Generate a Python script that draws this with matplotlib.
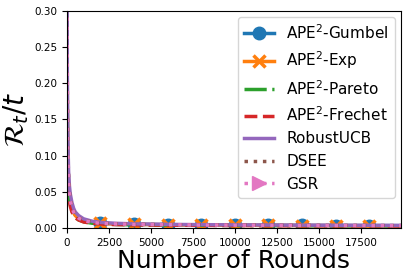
import numpy as np
import matplotlib
matplotlib.use("Agg")
import matplotlib.pyplot as plt

rounds = [1, 25, 50, 100, 150, 200, 300, 400, 500, 700, 1000, 1500, 2000, 3000,
          4000, 6000, 8000, 10000, 12000, 14000, 16000, 18000, 19900]

gumbel   = [0.45, 0.17, 0.10, 0.060, 0.045, 0.037, 0.028, 0.022, 0.018, 0.014, 0.010, 0.0078,
            0.0065, 0.0055, 0.0050, 0.0045, 0.0041, 0.0038, 0.0036, 0.0034, 0.0033, 0.0032, 0.0031]
exp      = [0.45, 0.17, 0.10, 0.060, 0.045, 0.036, 0.027, 0.021, 0.017, 0.013, 0.0098, 0.0076,
            0.0063, 0.0054, 0.0049, 0.0044, 0.0040, 0.0037, 0.0035, 0.0033, 0.0032, 0.0031, 0.0030]
pareto   = [0.42, 0.15, 0.09, 0.052, 0.040, 0.032, 0.024, 0.019, 0.015, 0.011, 0.0085, 0.0065,
            0.0055, 0.0047, 0.0043, 0.0039, 0.0036, 0.0034, 0.0032, 0.0031, 0.0030, 0.0029, 0.0028]
frechet  = [0.40, 0.14, 0.085, 0.048, 0.037, 0.030, 0.022, 0.018, 0.014, 0.011, 0.0082, 0.0064,
            0.0054, 0.0046, 0.0042, 0.0038, 0.0035, 0.0033, 0.0031, 0.0030, 0.0029, 0.0028, 0.0027]
robustucb = [0.50, 0.21, 0.13, 0.078, 0.058, 0.047, 0.035, 0.027, 0.022, 0.017, 0.0125, 0.0093,
             0.0076, 0.0063, 0.0056, 0.0049, 0.0045, 0.0042, 0.0040, 0.0038, 0.0037, 0.0036, 0.0035]
dsee     = [0.48, 0.19, 0.115, 0.068, 0.050, 0.040, 0.030, 0.023, 0.019, 0.014, 0.0105, 0.0080,
            0.0066, 0.0056, 0.0050, 0.0045, 0.0041, 0.0039, 0.0037, 0.0035, 0.0034, 0.0033, 0.0032]
gsr      = [0.46, 0.18, 0.105, 0.062, 0.046, 0.038, 0.028, 0.022, 0.018, 0.0135, 0.010, 0.0078,
            0.0064, 0.0055, 0.0049, 0.0044, 0.0040, 0.0038, 0.0036, 0.0034, 0.0033, 0.0032, 0.0031]
# spread of RobustUCB runs (faint band)
robustucb_lo = [0.46, 0.18, 0.11, 0.065, 0.048, 0.039, 0.029, 0.023, 0.018, 0.014, 0.0105, 0.0080,
                0.0066, 0.0056, 0.0050, 0.0045, 0.0041, 0.0038, 0.0036, 0.0035, 0.0034, 0.0033, 0.0032]
robustucb_hi = [0.54, 0.24, 0.15, 0.092, 0.068, 0.055, 0.041, 0.032, 0.026, 0.020, 0.0145, 0.0106,
                0.0086, 0.0070, 0.0062, 0.0053, 0.0049, 0.0046, 0.0044, 0.0041, 0.0040, 0.0039, 0.0038]

marker_rounds = [2000, 4000, 6000, 8000, 10000, 12000, 14000, 16000, 18000]
mark_idx = [rounds.index(r) for r in marker_rounds]

fig = plt.figure(figsize=(4.08, 2.80), dpi=100)
ax = fig.add_axes([0.164, 0.186, 0.819, 0.775])

ax.plot(rounds, gumbel, color='tab:blue', linestyle='-', linewidth=2.5,
        marker='o', markersize=9, markevery=mark_idx, label='APE$^2$-Gumbel')
ax.plot(rounds, exp, color='tab:orange', linestyle='-', linewidth=2.5,
        marker='x', markersize=8, markeredgewidth=2.5, markevery=mark_idx, label='APE$^2$-Exp')
ax.plot(rounds, pareto, color='tab:green', linestyle='-.', linewidth=2.5, label='APE$^2$-Pareto')
ax.plot(rounds, frechet, color='tab:red', linestyle='--', linewidth=2.5, label='APE$^2$-Frechet')
ax.fill_between(rounds, robustucb_lo, robustucb_hi, color='tab:purple', alpha=0.2, linewidth=0)
ax.plot(rounds, robustucb, color='tab:purple', linestyle='-', linewidth=2.5, label='RobustUCB')
ax.plot(rounds, dsee, color='tab:brown', linestyle=':', linewidth=2.5, label='DSEE')
ax.plot(rounds, gsr, color='tab:pink', linestyle=':', linewidth=2.5,
        marker='>', markersize=10, markevery=[], label='GSR')

ax.set_xlim(0, 19900)
ax.set_ylim(0, 0.30)
ax.set_xticks([0, 2500, 5000, 7500, 10000, 12500, 15000, 17500])
ax.set_yticks([0.0, 0.05, 0.10, 0.15, 0.20, 0.25, 0.30])
ax.tick_params(labelsize=7.5)
ax.set_xlabel('Number of Rounds', fontsize=18, labelpad=1)
ax.set_ylabel(r'$\mathcal{R}_t/t$', fontsize=20, labelpad=2)

ax.legend(loc='upper right', fontsize=11, handlelength=2.0, labelspacing=0.5,
          borderaxespad=0.4)

fig.savefig('out.png', dpi=100)
